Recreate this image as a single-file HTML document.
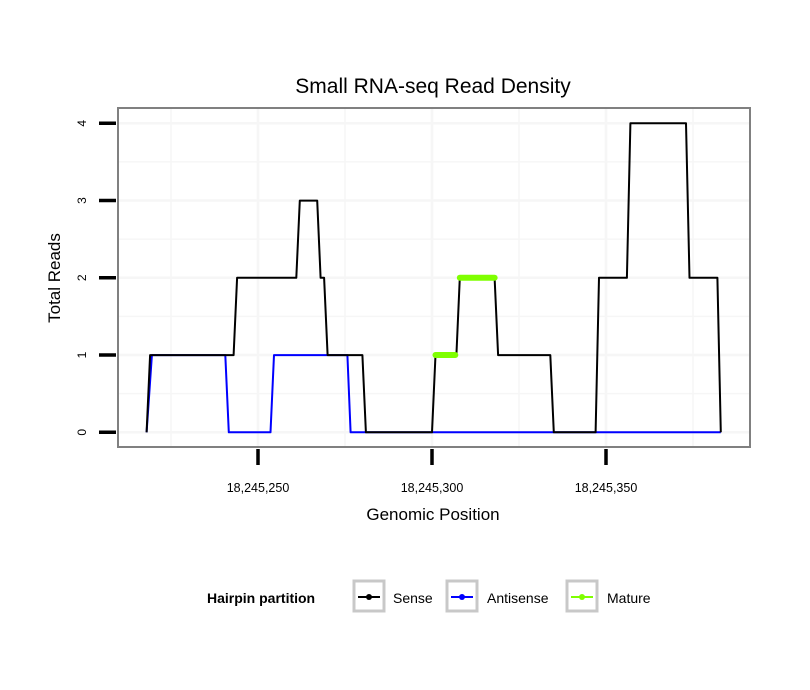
<!DOCTYPE html>
<html><head><meta charset="utf-8"><style>
body{margin:0;background:#fff;}
svg{display:block;font-family:"Liberation Sans",sans-serif;}
</style></head><body>
<svg id="chart" width="810" height="690"></svg>
<script>
const yTicks=[0,1,2,3,4];
const xTicks=[18245250,18245300,18245350];
const xTickLabels=["18,245,250","18,245,300","18,245,350"];
const senseX=[218,219,243,244,261,262,267,268,269,270,280,281,300,301,307,308,318,319,334,335,347,348,356,357,373,374,382,383];
const senseY=[0,1,1,2,2,3,3,2,2,1,1,0,0,1,1,2,2,1,1,0,0,2,2,4,4,2,2,0];
const antiX=[218,219.5,240.6,241.6,253.6,254.6,275.7,276.6,383];
const antiY=[0,1,1,0,0,1,1,0,0];
const matureSegX=[[301,306.7],[308,318]];
const matureSegY=[1,2];
const base=18245000;
const NS="http://www.w3.org/2000/svg";
const svg=document.getElementById('chart');
const L=118,R=750,T=108,B=447;
function sx(p){return 258+(p-250)*3.48;}
function sy(v){return 432.3-v*77.25;}
function mk(tag,attrs,parent){const e=document.createElementNS(NS,tag);for(const k in attrs)e.setAttribute(k,attrs[k]);(parent||svg).appendChild(e);return e;}
const panel=mk('rect',{x:L,y:T,width:R-L,height:B-T,fill:'#fff'});


for(let v=-0.5;v<=4.5;v+=0.5){const y=sy(v);if(y<T||y>B)continue;
 const g=mk('line',{x1:L,x2:R,y1:y,y2:y,stroke:'#f6f6f6','stroke-width':v%1===0?2.5:1.5});
 
 }
for(let p=225;p<=400;p+=25){const x=sx(p);if(x<L||x>R)continue;
 const g=mk('line',{x1:x,x2:x,y1:T,y2:B,stroke:'#f6f6f6','stroke-width':p%50===0?2.5:1.5});
 
 }
function path(xs,ys){return xs.map((x,i)=>(i?'L':'M')+sx(x).toFixed(1)+','+sy(ys[i]).toFixed(1)).join('');}
const anti=mk('path',{d:path(antiX,antiY),fill:'none',stroke:'#0000ff','stroke-width':2,'stroke-linejoin':'round'});


const sense=mk('path',{d:path(senseX,senseY),fill:'none',stroke:'#000','stroke-width':2,'stroke-linejoin':'round'});


matureSegX.forEach((s,i)=>{const m=mk('line',{x1:sx(s[0]),x2:sx(s[1]),y1:sy(matureSegY[i]),y2:sy(matureSegY[i]),stroke:'#7fff00','stroke-width':6,'stroke-linecap':'round'});
 
 });
const border=mk('rect',{x:L,y:T,width:R-L,height:B-T,fill:'none',stroke:'#808080','stroke-width':2});


yTicks.forEach(v=>{const y=sy(v);
 const t=mk('line',{x1:99,x2:116,y1:y,y2:y,stroke:'#000','stroke-width':3.5});
 
 
 const tx=mk('text',{x:0,y:0,transform:`translate(86,${y}) rotate(-90)`,'text-anchor':'middle','font-size':12});
 tx.textContent=v;
 
 });
xTicks.forEach((p,i)=>{const x=sx(p-base);
 const t=mk('line',{x1:x,x2:x,y1:449,y2:465,stroke:'#000','stroke-width':3.5});
 
 
 const tx=mk('text',{x:x,y:492,'text-anchor':'middle','font-size':12.5});
 tx.textContent=xTickLabels[i];
 
 });
</script>
<div style="position:absolute;left:0;top:0;width:810px;height:690px;pointer-events:none;">
<svg width="810" height="690" style="position:absolute;left:0;top:0">
<text x="433" y="93" text-anchor="middle" font-size="21">Small RNA-seq Read Density</text>
<text x="433" y="520" text-anchor="middle" font-size="17">Genomic Position</text>
<text transform="translate(60,278) rotate(-90)" text-anchor="middle" font-size="17">Total Reads</text>
<g>
<text x="207" y="603" font-size="14" font-weight="bold">Hairpin partition</text>
<g>
<rect x="354" y="581" width="30" height="30" fill="#fff" stroke="#c8c8c8" stroke-width="3"/>
<line x1="358" x2="380" y1="597" y2="597" stroke="#000" stroke-width="2"/><circle cx="369" cy="597" r="3" fill="#000"/>
<text x="393" y="603" font-size="14">Sense</text></g>
<g>
<rect x="447" y="581" width="30" height="30" fill="#fff" stroke="#c8c8c8" stroke-width="3"/>
<line x1="451" x2="473" y1="597" y2="597" stroke="#0000ff" stroke-width="2"/><circle cx="462" cy="597" r="3" fill="#0000ff"/>
<text x="487" y="603" font-size="14">Antisense</text></g>
<g>
<rect x="567" y="581" width="30" height="30" fill="#fff" stroke="#c8c8c8" stroke-width="3"/>
<line x1="571" x2="593" y1="597" y2="597" stroke="#7fff00" stroke-width="2"/><circle cx="582" cy="597" r="3" fill="#7fff00"/>
<text x="607" y="603" font-size="14">Mature</text></g>
</g>
</svg></div>
</body></html>
